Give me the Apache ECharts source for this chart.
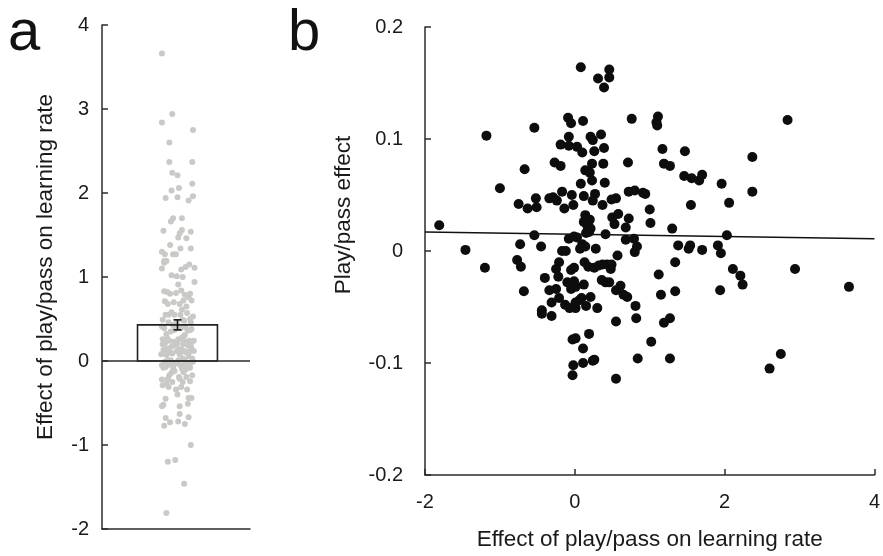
<!DOCTYPE html>
<html><head><meta charset="utf-8">
<script src="https://cdn.jsdelivr.net/npm/echarts@6/dist/echarts.min.js"></script>
<style>html,body{margin:0;padding:0;background:#fff}#c{width:883px;height:556px}</style>
</head><body><div id="c"></div><script>
// Effect of play/pass on learning rate (x in panel b, y in panel a)
const learnEffect = [
0.08,0.46,0.31,0.46,0.39,-0.09,-0.05,0.11,-0.54,0.76,
1.11,1.09,1.10,2.84,-1.18,-0.08,0.21,0.24,0.35,-0.19,
-0.08,0.03,0.10,0.26,0.39,1.17,1.47,2.37,-0.27,-0.19,
0.23,0.38,0.71,1.19,1.27,-0.67,0.14,0.20,0.23,0.08,
0.40,1.46,1.56,1.66,1.70,1.96,-1.00,-0.17,-0.34,-0.29,
-0.24,-0.04,0.12,0.27,0.24,-0.75,-0.63,-0.52,-0.51,-0.14,
-0.02,0.37,0.49,0.55,0.72,0.80,0.91,0.94,2.37,1.00,
1.55,2.06,0.14,0.20,0.12,0.17,0.21,0.15,0.19,0.50,
0.58,0.53,0.68,0.72,1.01,1.30,2.03,-0.54,0.41,-0.08,
-0.01,0.03,-1.81,0.68,0.79,-0.73,-0.45,0.10,0.14,0.28,
0.83,1.38,1.52,1.54,1.70,1.91,1.95,-1.46,-0.17,-0.12,
0.07,0.57,0.80,-1.20,-0.77,-0.72,-0.21,-0.25,-0.22,-0.40,
-0.05,-0.01,0.13,0.18,0.26,0.32,0.37,0.43,0.48,0.49,
1.34,1.12,2.11,2.21,2.24,2.94,3.66,-0.10,-0.05,-0.01,
0.01,0.12,0.36,0.41,0.46,0.61,0.55,0.65,0.70,1.15,
1.34,1.94,-0.68,-0.34,-0.25,-0.21,-0.31,-0.13,-0.07,0.01,
0.06,0.09,0.15,0.21,0.30,0.01,-0.44,-0.44,-0.31,0.55,
0.81,0.82,1.19,1.27,-0.03,0.01,0.19,0.11,-0.02,0.11,
0.24,0.26,-0.03,0.55,0.84,1.02,1.27,2.75,2.60
];
// Play/pass effect (y in panel b)
const playPassEffect = [
0.164,0.162,0.154,0.155,0.146,0.119,0.114,0.116,0.110,0.118,
0.120,0.115,0.112,0.117,0.103,0.102,0.102,0.099,0.104,0.095,
0.094,0.093,0.088,0.089,0.092,0.091,0.089,0.084,0.079,0.076,
0.078,0.078,0.079,0.078,0.076,0.073,0.072,0.070,0.063,0.060,
0.061,0.067,0.065,0.063,0.068,0.060,0.056,0.053,0.047,0.048,
0.045,0.050,0.049,0.051,0.045,0.042,0.038,0.047,0.039,0.038,
0.041,0.041,0.046,0.047,0.053,0.054,0.052,0.051,0.053,0.037,
0.041,0.043,0.032,0.028,0.026,0.022,0.020,0.016,0.017,0.030,
0.033,0.024,0.021,0.029,0.025,0.020,0.014,0.014,0.015,0.011,
0.013,0.012,0.023,0.010,0.011,0.006,0.004,0.006,0.004,0.002,
0.004,0.005,0.002,0.005,0.001,0.005,-0.002,0.001,0.000,0.000,
0.002,-0.004,-0.001,-0.015,-0.008,-0.014,-0.010,-0.016,-0.023,-0.024,
-0.017,-0.015,-0.010,-0.014,-0.015,-0.013,-0.012,-0.012,-0.016,-0.012,
-0.010,-0.021,-0.016,-0.022,-0.030,-0.016,-0.032,-0.028,-0.034,-0.027,
-0.032,-0.030,-0.026,-0.028,-0.028,-0.031,-0.035,-0.039,-0.041,-0.039,
-0.036,-0.035,-0.036,-0.035,-0.034,-0.042,-0.046,-0.048,-0.051,-0.046,
-0.044,-0.042,-0.049,-0.041,-0.051,-0.051,-0.053,-0.056,-0.058,-0.063,
-0.049,-0.060,-0.064,-0.060,-0.079,-0.078,-0.074,-0.087,-0.102,-0.100,
-0.098,-0.097,-0.111,-0.114,-0.096,-0.081,-0.096,-0.092,-0.105
];
// Horizontal jitter of the strip points in panel a
const stripJitter = [
0.05,-0.10,0.12,0.20,-0.16,0.08,-0.12,0.18,-0.19,0.17,
0.25,0.07,-0.19,-0.19,-0.01,-0.04,0.02,0.24,-0.07,0.14,
-0.17,0.22,-0.08,-0.18,0.06,-0.16,0.03,-0.09,-0.13,0.04,
0.15,0.21,-0.15,-0.13,-0.15,0.17,-0.14,0.10,-0.03,-0.20,
0.13,0.14,0.08,-0.07,-0.04,0.23,0.20,-0.09,0.00,-0.18,
0.19,0.12,0.01,-0.12,0.18,0.12,0.05,-0.17,0.16,-0.06,
0.16,-0.02,0.09,-0.14,0.10,-0.08,0.03,0.25,0.22,0.09,
-0.17,0.04,0.07,-0.18,0.24,-0.06,0.13,-0.11,0.20,0.19,
-0.06,0.23,-0.11,0.21,0.01,-0.19,-0.06,0.05,0.03,0.19,
-0.15,0.09,-0.13,0.05,0.12,-0.08,-0.14,0.14,0.04,0.08,
-0.16,-0.08,0.05,0.20,0.08,0.17,0.02,0.11,0.22,-0.02,
-0.13,0.15,0.19,-0.11,-0.16,0.03,-0.11,0.09,-0.19,0.02,
0.06,-0.09,-0.17,0.17,0.03,-0.13,0.19,-0.04,0.11,-0.18,
0.06,0.13,0.22,0.02,-0.05,-0.05,-0.19,0.13,-0.19,0.23,
-0.07,0.11,0.16,-0.19,0.01,0.08,-0.02,0.14,-0.03,0.18,
0.20,-0.14,-0.14,0.15,-0.05,0.05,-0.10,0.10,-0.14,0.03,
0.17,-0.05,0.21,-0.15,0.11,-0.11,0.21,0.17,0.07,0.06,
0.00,-0.12,-0.16,0.00,0.00,0.12,-0.01,-0.16,0.20,0.07,
-0.09,0.09,-0.06,-0.10,0.07,-0.06,-0.04,0.23,-0.09
];
// Panel a bar (mean) and its error bar
const barLeft = -0.52, barRight = 0.56, barMean = 0.43, barErr = 0.06, errX = 0.02;
// Panel b fitted line
const fitX = [-2, 4];
const fitY = [0.017, 0.011];
// Texts
const nameA = 'Effect of play/pass on learning rate';
const nameBx = 'Effect of play/pass on learning rate';
const nameBy = 'Play/pass effect';

const FONT = '"Liberation Sans", Arial, Helvetica, sans-serif';
const AX = '#2b2b2b', TXT = '#1a1a1a';
const chart = echarts.init(document.getElementById('c'));
const fmt = v => { const r = Math.round(v * 1000) / 1000; return String(r); };
const nameFont = '22.5px "Liberation Sans", Arial, sans-serif';

chart.setOption({
  animation: false,
  backgroundColor: '#fff',
  graphic: [
    {type:'text', x: 8, y: 34, style:{text:'a', font:'58px "Liberation Sans", Arial, sans-serif', fill:'#111', verticalAlign:'middle'}},
    {type:'text', x: 288, y: 34, style:{text:'b', font:'58px "Liberation Sans", Arial, sans-serif', fill:'#111', verticalAlign:'middle'}},
    {type:'text', x: 46, y: 267, rotation: Math.PI/2, style:{text:nameA, font:nameFont, fill:TXT, align:'center', verticalAlign:'middle'}},
    {type:'text', x: 344, y: 215, rotation: Math.PI/2, style:{text:nameBy, font:nameFont, fill:TXT, align:'center', verticalAlign:'middle'}}
  ],
  grid: [
    {left: 102, top: 25, width: 148, height: 504},
    {left: 425, top: 27, width: 452, height: 451}
  ],
  xAxis: [
    {gridIndex:0, type:'value', min:-1, max:1,
     axisLine:{show:true, onZero:false, lineStyle:{color:AX, width:1.5}},
     axisTick:{show:false}, axisLabel:{show:false}, splitLine:{show:false}},
    {gridIndex:1, type:'value', min:-2, max:4, interval:2,
     axisLine:{show:true, onZero:false, lineStyle:{color:AX, width:1.5}},
     axisTick:{show:true, inside:true, length:6, lineStyle:{color:AX, width:1.5}},
     axisLabel:{color:TXT, fontSize:20, fontFamily:FONT, margin:17, formatter: fmt},
     splitLine:{show:false},
     name:nameBx, nameLocation:'middle', nameGap:53,
     nameTextStyle:{fontSize:22.5, color:TXT, fontFamily:FONT}}
  ],
  yAxis: [
    {gridIndex:0, type:'value', min:-2, max:4, interval:1,
     axisLine:{show:true, onZero:false, lineStyle:{color:AX, width:1.5}},
     axisTick:{show:true, inside:true, length:6, lineStyle:{color:AX, width:1.5}},
     axisLabel:{color:TXT, fontSize:20, fontFamily:FONT, margin:13, formatter: fmt},
     splitLine:{show:false}},
    {gridIndex:1, type:'value', min:-0.2, max:0.2, interval:0.1,
     axisLine:{show:true, onZero:false, lineStyle:{color:AX, width:1.5}},
     axisTick:{show:true, inside:true, length:6, lineStyle:{color:AX, width:1.5}},
     axisLabel:{color:TXT, fontSize:20, fontFamily:FONT, margin:22, formatter: fmt},
     splitLine:{show:false}}
  ],
  series: [
    {type:'scatter', xAxisIndex:0, yAxisIndex:0, z:2,
     data: learnEffect.map((v,i)=>[stripJitter[i], v]),
     symbolSize:6, itemStyle:{color:'#c9c9c5', opacity:1},
     markLine:{silent:true, symbol:'none', label:{show:false},
       lineStyle:{color:AX, width:1.5, type:'solid'}, data:[{yAxis:0}]}},
    {type:'custom', xAxisIndex:0, yAxisIndex:0, z:3,
     data:[[barLeft, barMean, barRight]],
     renderItem:(p, api)=>{
       const a = api.coord([api.value(0), api.value(1)]);
       const b = api.coord([api.value(2), 0]);
       return {type:'rect', shape:{x:a[0], y:a[1], width:b[0]-a[0], height:b[1]-a[1]},
               style:{fill:'none', stroke:'#222', lineWidth:1.6}};
     }},
    {type:'custom', xAxisIndex:0, yAxisIndex:0, z:4,
     data:[[errX, barMean - barErr, barMean + barErr]],
     renderItem:(p, api)=>{
       const lo = api.coord([api.value(0), api.value(1)]);
       const hi = api.coord([api.value(0), api.value(2)]);
       const w = 4;
       const st = {stroke:'#111', lineWidth:1.5};
       return {type:'group', children:[
         {type:'line', shape:{x1:lo[0], y1:lo[1], x2:hi[0], y2:hi[1]}, style:st},
         {type:'line', shape:{x1:lo[0]-w, y1:lo[1], x2:lo[0]+w, y2:lo[1]}, style:st},
         {type:'line', shape:{x1:hi[0]-w, y1:hi[1], x2:hi[0]+w, y2:hi[1]}, style:st}
       ]};
     }},
    {type:'scatter', xAxisIndex:1, yAxisIndex:1, z:2,
     data: learnEffect.map((v,i)=>[v, playPassEffect[i]]),
     symbolSize:10, itemStyle:{color:'#0d0d0d', opacity:1}},
    {type:'line', xAxisIndex:1, yAxisIndex:1, z:3,
     data: fitX.map((v,i)=>[v, fitY[i]]), symbol:'none',
     lineStyle:{color:'#111', width:1.5}}
  ]
});
</script></body></html>
